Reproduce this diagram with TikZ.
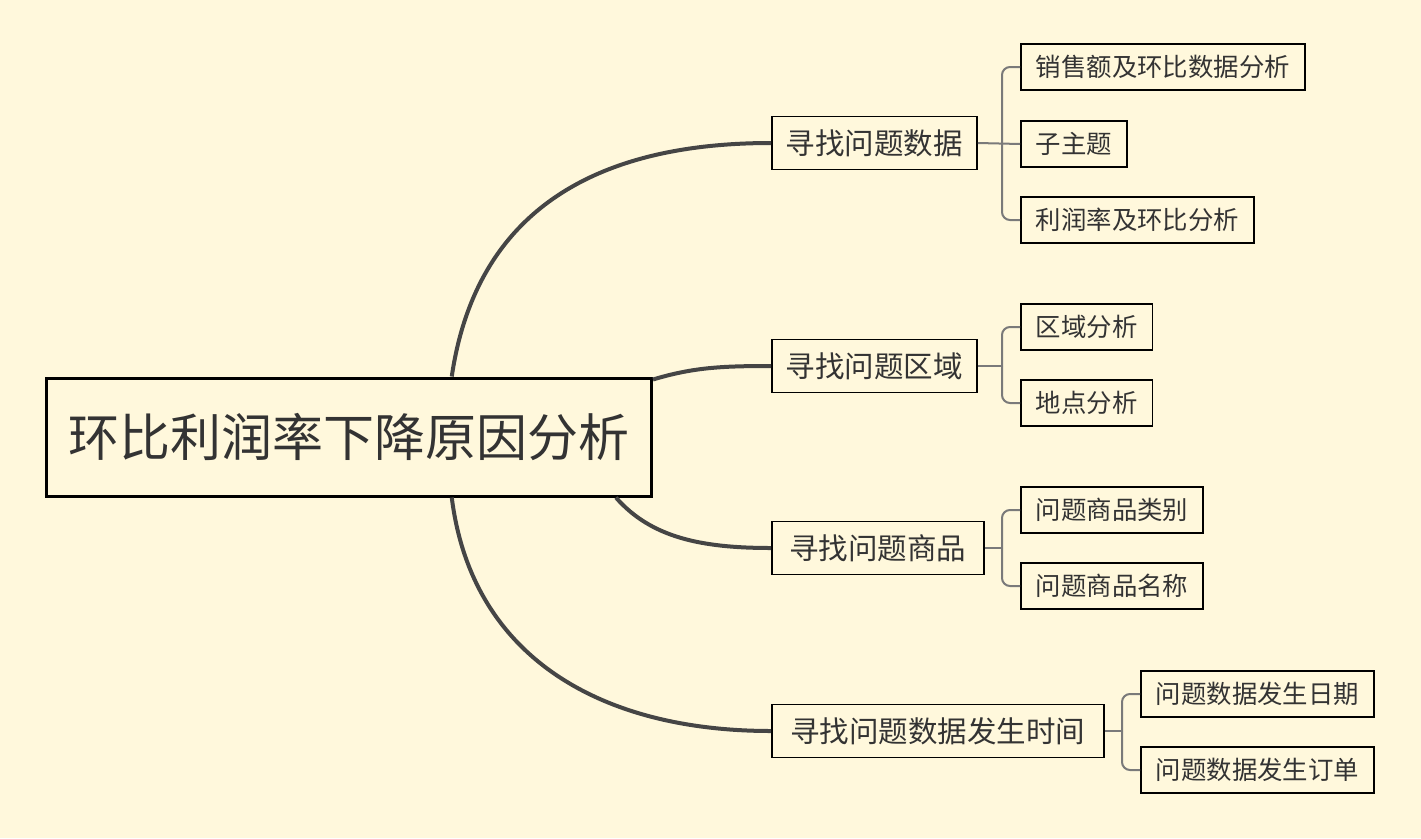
\documentclass[tikz,border=0pt]{standalone}
\usepackage{fontspec}
\setmainfont{Noto Sans CJK SC}
\usetikzlibrary{calc}
\definecolor{paper}{HTML}{FFF8DC}
\definecolor{ink}{HTML}{333333}
\definecolor{branchgray}{HTML}{454545}
\definecolor{twiggray}{HTML}{7A7A7A}
\tikzset{
  rootbox/.style={draw=black, line width=3pt, text=ink, font=\fontsize{51}{51}\selectfont, inner xsep=22pt, inner ysep=0pt, minimum height=118pt, anchor=west},
  topic/.style={draw=black, line width=1.8pt, text=ink, font=\fontsize{29.5}{29.5}\selectfont, inner xsep=14pt, inner ysep=0pt, minimum height=53pt, anchor=west},
  subtopic/.style={draw=black, line width=1.6pt, text=ink, font=\fontsize{25.4}{25.4}\selectfont, inner xsep=15pt, inner ysep=0pt, minimum height=46pt, anchor=west},
  branch/.style={branchgray, line width=4pt},
  twig/.style={twiggray, line width=2pt, rounded corners=8pt},
}

\begin{document}
\begin{tikzpicture}[x=1pt,y=-1pt]
\useasboundingbox[fill=paper] (0,0) rectangle (1421,838);

% root and main topics
\node[rootbox] (root) at (45,437) {环比利润率下降原因分析};
\node[topic] (data) at (771,143) {寻找问题数据};
\node[topic] (area) at (771,366) {寻找问题区域};
\node[topic, minimum width=212pt] (goods) at (771,548) {寻找问题商品};
\node[topic, minimum width=332pt] (time) at (771,731) {寻找问题数据发生时间};

% sub topics
\node[subtopic] (data1) at (1020,67) {销售额及环比数据分析};
\node[subtopic] (data2) at (1020,144) {子主题};
\node[subtopic] (data3) at (1020,220) {利润率及环比分析};
\node[subtopic] (area1) at (1020,327) {区域分析};
\node[subtopic] (area2) at (1020,403) {地点分析};
\node[subtopic] (goods1) at (1020,510) {问题商品类别};
\node[subtopic] (goods2) at (1020,586) {问题商品名称};
\node[subtopic] (time1) at (1140,694) {问题数据发生日期};
\node[subtopic] (time2) at (1140,770) {问题数据发生订单};

% branches from the root
\draw[branch] ($(root.north west)!0.669!(root.north east)$) .. controls +(25,-170) and +(-170,0) .. (data.west);
\draw[branch] ($(root.north east)+(0,3)$) .. controls +(40,-12) and +(-50,0) .. (area.west);
\draw[branch] ($(root.south west)!0.939!(root.south east)$) .. controls +(35,40) and +(-70,0) .. (goods.west);
\draw[branch] ($(root.south west)!0.669!(root.south east)$) .. controls +(20,160) and +(-170,0) .. (time.west);

% brackets to the sub topics
\coordinate (dataJ) at ($(data.east -| data1.west)+(-18,0)$);
\coordinate (areaJ) at ($(area.east -| area1.west)+(-18,0)$);
\coordinate (goodsJ) at ($(goods.east -| goods1.west)+(-18,0)$);
\coordinate (timeJ) at ($(time.east -| time1.west)+(-18,0)$);
\draw[twig] (data.east) -- (data2.west);
\draw[twig] (dataJ) |- (data1.west);
\draw[twig] (dataJ) |- (data3.west);
\draw[twig] (area.east) -- (areaJ);
\draw[twig] (areaJ) |- (area1.west);
\draw[twig] (areaJ) |- (area2.west);
\draw[twig] (goods.east) -- (goodsJ);
\draw[twig] (goodsJ) |- (goods1.west);
\draw[twig] (goodsJ) |- (goods2.west);
\draw[twig] (time.east) -- (timeJ);
\draw[twig] (timeJ) |- (time1.west);
\draw[twig] (timeJ) |- (time2.west);

\end{tikzpicture}
\end{document}
